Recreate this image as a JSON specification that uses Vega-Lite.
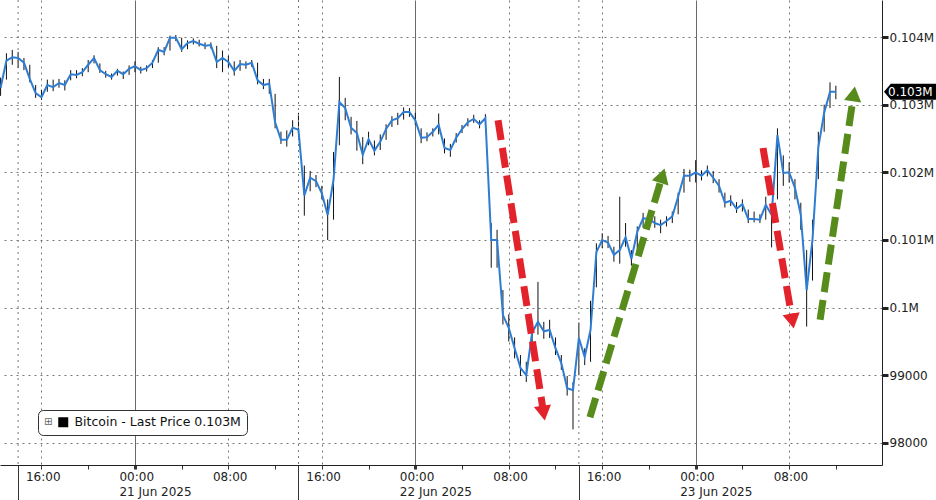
{
  "$schema": "https://vega.github.io/schema/vega-lite/v6.json",
  "width": 882,
  "height": 465,
  "autosize": {"type": "none"},
  "padding": {"left": 0, "top": 0, "right": 54, "bottom": 35},
  "background": "white",
  "config": {"view": {"stroke": null}, "font": "DejaVu Sans"},
  "datasets": {
    "btc": [
      {"t": "2025-06-20T12:30Z", "c": 103250, "lo": 103130, "hi": 103400},
      {"t": "2025-06-20T13:00Z", "c": 103650, "lo": 103370, "hi": 103760},
      {"t": "2025-06-20T13:30Z", "c": 103700, "lo": 103590, "hi": 103810},
      {"t": "2025-06-20T14:00Z", "c": 103690, "lo": 103540, "hi": 103780},
      {"t": "2025-06-20T14:30Z", "c": 103620, "lo": 103510, "hi": 103690},
      {"t": "2025-06-20T15:00Z", "c": 103380, "lo": 103330, "hi": 103590},
      {"t": "2025-06-20T15:30Z", "c": 103170, "lo": 103100, "hi": 103290},
      {"t": "2025-06-20T16:00Z", "c": 103110, "lo": 103070, "hi": 103220},
      {"t": "2025-06-20T16:30Z", "c": 103290, "lo": 103190, "hi": 103370},
      {"t": "2025-06-20T17:00Z", "c": 103260, "lo": 103200, "hi": 103370},
      {"t": "2025-06-20T17:30Z", "c": 103320, "lo": 103250, "hi": 103380},
      {"t": "2025-06-20T18:00Z", "c": 103290, "lo": 103210, "hi": 103360},
      {"t": "2025-06-20T18:30Z", "c": 103450, "lo": 103360, "hi": 103510},
      {"t": "2025-06-20T19:00Z", "c": 103440, "lo": 103390, "hi": 103510},
      {"t": "2025-06-20T19:30Z", "c": 103480, "lo": 103420, "hi": 103540},
      {"t": "2025-06-20T20:00Z", "c": 103590, "lo": 103480, "hi": 103660},
      {"t": "2025-06-20T20:30Z", "c": 103690, "lo": 103610, "hi": 103730},
      {"t": "2025-06-20T21:00Z", "c": 103510, "lo": 103470, "hi": 103610},
      {"t": "2025-06-20T21:30Z", "c": 103450, "lo": 103400, "hi": 103500},
      {"t": "2025-06-20T22:00Z", "c": 103410, "lo": 103370, "hi": 103460},
      {"t": "2025-06-20T22:30Z", "c": 103500, "lo": 103430, "hi": 103530},
      {"t": "2025-06-20T23:00Z", "c": 103450, "lo": 103380, "hi": 103490},
      {"t": "2025-06-20T23:30Z", "c": 103530, "lo": 103440, "hi": 103580},
      {"t": "2025-06-21T00:00Z", "c": 103570, "lo": 103480, "hi": 103640},
      {"t": "2025-06-21T00:30Z", "c": 103510, "lo": 103460, "hi": 103560},
      {"t": "2025-06-21T01:00Z", "c": 103540, "lo": 103490, "hi": 103580},
      {"t": "2025-06-21T01:30Z", "c": 103620, "lo": 103540, "hi": 103660},
      {"t": "2025-06-21T02:00Z", "c": 103810, "lo": 103620, "hi": 103850},
      {"t": "2025-06-21T02:30Z", "c": 103780, "lo": 103730, "hi": 103850},
      {"t": "2025-06-21T03:00Z", "c": 103990, "lo": 103800, "hi": 104020},
      {"t": "2025-06-21T03:30Z", "c": 103990, "lo": 103940, "hi": 104030},
      {"t": "2025-06-21T04:00Z", "c": 103820, "lo": 103780, "hi": 103990},
      {"t": "2025-06-21T04:30Z", "c": 103910, "lo": 103820, "hi": 103950},
      {"t": "2025-06-21T05:00Z", "c": 103940, "lo": 103890, "hi": 103980},
      {"t": "2025-06-21T05:30Z", "c": 103900, "lo": 103860, "hi": 103960},
      {"t": "2025-06-21T06:00Z", "c": 103870, "lo": 103820, "hi": 103920},
      {"t": "2025-06-21T06:30Z", "c": 103880, "lo": 103830, "hi": 103920},
      {"t": "2025-06-21T07:00Z", "c": 103630, "lo": 103540, "hi": 103870},
      {"t": "2025-06-21T07:30Z", "c": 103690, "lo": 103480, "hi": 103800},
      {"t": "2025-06-21T08:00Z", "c": 103630, "lo": 103550, "hi": 103720},
      {"t": "2025-06-21T08:30Z", "c": 103500, "lo": 103430, "hi": 103640},
      {"t": "2025-06-21T09:00Z", "c": 103600, "lo": 103500, "hi": 103660},
      {"t": "2025-06-21T09:30Z", "c": 103590, "lo": 103530, "hi": 103640},
      {"t": "2025-06-21T10:00Z", "c": 103620, "lo": 103560, "hi": 103660},
      {"t": "2025-06-21T10:30Z", "c": 103360, "lo": 103300, "hi": 103620},
      {"t": "2025-06-21T11:00Z", "c": 103290, "lo": 103230, "hi": 103380},
      {"t": "2025-06-21T11:30Z", "c": 103310, "lo": 103160, "hi": 103380},
      {"t": "2025-06-21T12:00Z", "c": 102740, "lo": 102650, "hi": 103160},
      {"t": "2025-06-21T12:30Z", "c": 102480, "lo": 102420, "hi": 102600},
      {"t": "2025-06-21T13:00Z", "c": 102480, "lo": 102380, "hi": 102620},
      {"t": "2025-06-21T13:30Z", "c": 102660, "lo": 102530, "hi": 102770},
      {"t": "2025-06-21T14:00Z", "c": 102630, "lo": 102520, "hi": 102880},
      {"t": "2025-06-21T14:30Z", "c": 101660, "lo": 101360, "hi": 102100},
      {"t": "2025-06-21T15:00Z", "c": 101920, "lo": 101720, "hi": 102020},
      {"t": "2025-06-21T15:30Z", "c": 101870, "lo": 101780, "hi": 101960},
      {"t": "2025-06-21T16:00Z", "c": 101690, "lo": 101600, "hi": 101800},
      {"t": "2025-06-21T16:30Z", "c": 101370, "lo": 101000, "hi": 101600},
      {"t": "2025-06-21T17:00Z", "c": 101890, "lo": 101300, "hi": 102300},
      {"t": "2025-06-21T17:30Z", "c": 103040, "lo": 102400, "hi": 103410},
      {"t": "2025-06-21T18:00Z", "c": 102950, "lo": 102770, "hi": 103100},
      {"t": "2025-06-21T18:30Z", "c": 102660, "lo": 102560, "hi": 102820},
      {"t": "2025-06-21T19:00Z", "c": 102580, "lo": 102320, "hi": 102760},
      {"t": "2025-06-21T19:30Z", "c": 102260, "lo": 102120, "hi": 102520},
      {"t": "2025-06-21T20:00Z", "c": 102490, "lo": 102400, "hi": 102600},
      {"t": "2025-06-21T20:30Z", "c": 102320, "lo": 102250, "hi": 102470},
      {"t": "2025-06-21T21:00Z", "c": 102450, "lo": 102330, "hi": 102560},
      {"t": "2025-06-21T21:30Z", "c": 102640, "lo": 102480, "hi": 102710},
      {"t": "2025-06-21T22:00Z", "c": 102770, "lo": 102670, "hi": 102830},
      {"t": "2025-06-21T22:30Z", "c": 102800, "lo": 102700, "hi": 102880},
      {"t": "2025-06-21T23:00Z", "c": 102890, "lo": 102780, "hi": 102960},
      {"t": "2025-06-21T23:30Z", "c": 102890, "lo": 102820, "hi": 102950},
      {"t": "2025-06-22T00:00Z", "c": 102770, "lo": 102700, "hi": 102880},
      {"t": "2025-06-22T00:30Z", "c": 102510, "lo": 102430, "hi": 102650},
      {"t": "2025-06-22T01:00Z", "c": 102520, "lo": 102460, "hi": 102590},
      {"t": "2025-06-22T01:30Z", "c": 102600, "lo": 102530, "hi": 102650},
      {"t": "2025-06-22T02:00Z", "c": 102700, "lo": 102560, "hi": 102870},
      {"t": "2025-06-22T02:30Z", "c": 102360, "lo": 102280, "hi": 102500},
      {"t": "2025-06-22T03:00Z", "c": 102330, "lo": 102230, "hi": 102420},
      {"t": "2025-06-22T03:30Z", "c": 102510, "lo": 102440, "hi": 102580},
      {"t": "2025-06-22T04:00Z", "c": 102640, "lo": 102580, "hi": 102700},
      {"t": "2025-06-22T04:30Z", "c": 102740, "lo": 102680, "hi": 102800},
      {"t": "2025-06-22T05:00Z", "c": 102790, "lo": 102730, "hi": 102850},
      {"t": "2025-06-22T05:30Z", "c": 102710, "lo": 102650, "hi": 102770},
      {"t": "2025-06-22T06:00Z", "c": 102800, "lo": 102700, "hi": 102860},
      {"t": "2025-06-22T06:30Z", "c": 101000, "lo": 100590, "hi": 101250},
      {"t": "2025-06-22T07:00Z", "c": 101000, "lo": 100590, "hi": 101150},
      {"t": "2025-06-22T07:30Z", "c": 99890, "lo": 99750, "hi": 100260},
      {"t": "2025-06-22T08:00Z", "c": 99700, "lo": 99500, "hi": 99900},
      {"t": "2025-06-22T08:30Z", "c": 99400, "lo": 99250, "hi": 99560},
      {"t": "2025-06-22T09:00Z", "c": 99110, "lo": 98990, "hi": 99300},
      {"t": "2025-06-22T09:30Z", "c": 99000, "lo": 98900, "hi": 99200},
      {"t": "2025-06-22T10:00Z", "c": 99630, "lo": 99300, "hi": 99800},
      {"t": "2025-06-22T10:30Z", "c": 99790, "lo": 99600, "hi": 100380},
      {"t": "2025-06-22T11:00Z", "c": 99650, "lo": 99540, "hi": 99790},
      {"t": "2025-06-22T11:30Z", "c": 99670, "lo": 99550, "hi": 99820},
      {"t": "2025-06-22T12:00Z", "c": 99400, "lo": 99300, "hi": 99560},
      {"t": "2025-06-22T12:30Z", "c": 99180, "lo": 99080, "hi": 99300},
      {"t": "2025-06-22T13:00Z", "c": 98810, "lo": 98700, "hi": 98990},
      {"t": "2025-06-22T13:30Z", "c": 98780, "lo": 98200, "hi": 98900},
      {"t": "2025-06-22T14:00Z", "c": 99550, "lo": 99000, "hi": 99780},
      {"t": "2025-06-22T14:30Z", "c": 99270, "lo": 99150, "hi": 99400},
      {"t": "2025-06-22T15:00Z", "c": 99670, "lo": 99200, "hi": 100100},
      {"t": "2025-06-22T15:30Z", "c": 100820, "lo": 100300, "hi": 100950},
      {"t": "2025-06-22T16:00Z", "c": 101000, "lo": 100880, "hi": 101100},
      {"t": "2025-06-22T16:30Z", "c": 100960, "lo": 100880, "hi": 101060},
      {"t": "2025-06-22T17:00Z", "c": 100780, "lo": 100680, "hi": 100900},
      {"t": "2025-06-22T17:30Z", "c": 100850, "lo": 100650, "hi": 101640},
      {"t": "2025-06-22T18:00Z", "c": 101040, "lo": 100900, "hi": 101250},
      {"t": "2025-06-22T18:30Z", "c": 100720, "lo": 100620, "hi": 100850},
      {"t": "2025-06-22T19:00Z", "c": 101120, "lo": 100800, "hi": 101200},
      {"t": "2025-06-22T19:30Z", "c": 101320, "lo": 101180, "hi": 101400},
      {"t": "2025-06-22T20:00Z", "c": 101310, "lo": 101220, "hi": 101400},
      {"t": "2025-06-22T20:30Z", "c": 101250, "lo": 101180, "hi": 101350},
      {"t": "2025-06-22T21:00Z", "c": 101220, "lo": 101100, "hi": 101300},
      {"t": "2025-06-22T21:30Z", "c": 101280, "lo": 101200, "hi": 101350},
      {"t": "2025-06-22T22:00Z", "c": 101350, "lo": 101250, "hi": 101420},
      {"t": "2025-06-22T22:30Z", "c": 101640, "lo": 101380, "hi": 101700},
      {"t": "2025-06-22T23:00Z", "c": 101950, "lo": 101700, "hi": 102050},
      {"t": "2025-06-22T23:30Z", "c": 101950, "lo": 101860, "hi": 102040},
      {"t": "2025-06-23T00:00Z", "c": 102000, "lo": 101850, "hi": 102180},
      {"t": "2025-06-23T00:30Z", "c": 101950, "lo": 101880, "hi": 102030},
      {"t": "2025-06-23T01:00Z", "c": 102030, "lo": 101940, "hi": 102100},
      {"t": "2025-06-23T01:30Z", "c": 101920, "lo": 101840, "hi": 102020},
      {"t": "2025-06-23T02:00Z", "c": 101800, "lo": 101700, "hi": 101900},
      {"t": "2025-06-23T02:30Z", "c": 101550, "lo": 101480, "hi": 101700},
      {"t": "2025-06-23T03:00Z", "c": 101580, "lo": 101500, "hi": 101660},
      {"t": "2025-06-23T03:30Z", "c": 101460, "lo": 101400, "hi": 101560},
      {"t": "2025-06-23T04:00Z", "c": 101530, "lo": 101420, "hi": 101600},
      {"t": "2025-06-23T04:30Z", "c": 101310, "lo": 101250, "hi": 101450},
      {"t": "2025-06-23T05:00Z", "c": 101310, "lo": 101260, "hi": 101420},
      {"t": "2025-06-23T05:30Z", "c": 101300, "lo": 101250, "hi": 101380},
      {"t": "2025-06-23T06:00Z", "c": 101520, "lo": 101300, "hi": 101640},
      {"t": "2025-06-23T06:30Z", "c": 101370, "lo": 100890, "hi": 101500},
      {"t": "2025-06-23T07:00Z", "c": 102550, "lo": 101600, "hi": 102650},
      {"t": "2025-06-23T07:30Z", "c": 101990, "lo": 101800, "hi": 102250},
      {"t": "2025-06-23T08:00Z", "c": 102000, "lo": 101850, "hi": 102150},
      {"t": "2025-06-23T08:30Z", "c": 101770, "lo": 101600, "hi": 101900},
      {"t": "2025-06-23T09:00Z", "c": 101370, "lo": 101150, "hi": 101550},
      {"t": "2025-06-23T09:30Z", "c": 100260, "lo": 99720, "hi": 100850},
      {"t": "2025-06-23T10:00Z", "c": 101000, "lo": 100400, "hi": 101300},
      {"t": "2025-06-23T10:30Z", "c": 102370, "lo": 101900, "hi": 102600},
      {"t": "2025-06-23T11:00Z", "c": 102880, "lo": 102600, "hi": 103000},
      {"t": "2025-06-23T11:30Z", "c": 103190, "lo": 102950, "hi": 103330},
      {"t": "2025-06-23T12:00Z", "c": 103190, "lo": 103080, "hi": 103280}
    ],
    "sessions": [
      {"t": "2025-06-20T14:00Z"},
      {"t": "2025-06-21T14:00Z"},
      {"t": "2025-06-22T14:00Z"}
    ],
    "arrows": [
      {"id": "r1", "dir": "down", "t1": "2025-06-22T07:05Z", "p1": 102770, "t2": "2025-06-22T10:59Z", "p2": 98440},
      {"id": "r2", "dir": "down", "t1": "2025-06-23T05:46Z", "p1": 102360, "t2": "2025-06-23T08:17Z", "p2": 99800},
      {"id": "g1", "dir": "up", "t1": "2025-06-22T14:57Z", "p1": 98380, "t2": "2025-06-22T21:09Z", "p2": 101950},
      {"id": "g2", "dir": "up", "t1": "2025-06-23T10:39Z", "p1": 99820, "t2": "2025-06-23T13:32Z", "p2": 103160}
    ],
    "last": [{"p": 103190, "label": "0.103M"}]
  },
  "layer": [
    {
      "data": {"name": "btc"},
      "mark": {"type": "rule", "strokeWidth": 1, "color": "#111111"},
      "encoding": {
        "x": {
          "field": "t", "type": "temporal", "title": null,
          "scale": {"type": "utc", "domain": [1750422420000, 1750694220000]},
          "axis": {
            "orient": "bottom",
            "values": [1750428000000, 1750435200000, 1750449600000, 1750464000000, 1750478400000, 1750492800000, 1750507200000, 1750514400000, 1750521600000, 1750536000000, 1750550400000, 1750564800000, 1750579200000, 1750593600000, 1750600800000, 1750608000000, 1750622400000, 1750636800000, 1750651200000, 1750665600000, 1750680000000],
            "labelExpr": "utchours(datum.value) % 8 == 0 ? (utchours(datum.value) == 0 ? [utcFormat(datum.value, '%H:%M'), utcFormat(datum.value, '%d %b %Y')] : utcFormat(datum.value, '%H:%M')) : ''",
            "labelAlign": "left", "labelOffset": -16, "labelBaseline": "top", "labelPadding": -30, "labelLineHeight": 15,
            "labelFont": "DejaVu Sans", "labelFontSize": 12, "labelColor": "#222222",
            "labelOverlap": false, "labelFlush": false, "labelBound": false,
            "domainColor": "#222222", "domainWidth": 1,
            "tickColor": "#333333",
            "tickSize": 36,
            "tickDash": {"condition": {"test": "utchours(datum.value) == 14", "value": []}, "value": [4, 100]},
            "tickWidth": {"condition": {"test": "utchours(datum.value) == 0", "value": 3}, "value": 1},
            "grid": true,
            "gridColor": {"condition": {"test": "utchours(datum.value) == 0", "value": "#6a6a6a"}, "value": "#777777"},
            "gridDash": {"condition": {"test": "utchours(datum.value) == 0", "value": []}, "value": [2, 4]},
            "gridOpacity": {"condition": {"test": "utchours(datum.value) % 8 == 0", "value": 1}, "value": 0}
          }
        },
        "y": {
          "field": "lo", "type": "quantitative", "title": null,
          "scale": {"domain": [97674, 104547], "nice": false, "zero": false},
          "axis": {
            "orient": "right",
            "values": [98000, 98500, 99000, 99500, 100000, 100500, 101000, 101500, 102000, 102500, 103000, 103500, 104000, 104500],
            "labelExpr": "datum.value % 1000 != 0 ? '' : (datum.value >= 100000 ? format(datum.value / 1000000, '.3~f') + 'M' : format(datum.value, 'd'))",
            "labelFont": "DejaVu Sans", "labelFontSize": 12, "labelColor": "#222222", "labelPadding": 1,
            "labelOverlap": false, "labelFlush": false, "labelBound": false,
            "domainColor": "#222222", "tickColor": "#222222",
            "tickSize": 6,
            "tickDash": {"condition": {"test": "datum.value % 1000 == 0", "value": []}, "value": [4, 50]},
            "tickWidth": {"condition": {"test": "datum.value % 1000 == 0", "value": 3}, "value": 1},
            "grid": true, "gridDash": [2, 4], "gridColor": "#777777",
            "gridOpacity": {"condition": {"test": "datum.value % 1000 == 0", "value": 1}, "value": 0}
          }
        },
        "y2": {"field": "hi"}
      }
    },
    {
      "data": {"name": "sessions"},
      "mark": {"type": "rule", "strokeWidth": 1, "strokeDash": [2, 4], "color": "#777777"},
      "encoding": {
        "x": {"field": "t", "type": "temporal", "title": null, "scale": {"type": "utc"}}
      }
    },
    {
      "data": {"name": "btc"},
      "mark": {"type": "line", "strokeWidth": 2, "color": "#2e7dd3"},
      "encoding": {
        "x": {"field": "t", "type": "temporal", "title": null, "scale": {"type": "utc"}},
        "y": {"field": "c", "type": "quantitative", "title": null}
      }
    },
    {
      "data": {"name": "arrows"},
      "mark": {"type": "rule", "strokeWidth": 7, "strokeDash": [20, 8], "strokeCap": "butt"},
      "encoding": {
        "x": {"field": "t1", "type": "temporal", "title": null, "scale": {"type": "utc"}},
        "y": {"field": "p1", "type": "quantitative", "title": null},
        "x2": {"field": "t2"},
        "y2": {"field": "p2"},
        "stroke": {"condition": {"test": "datum.dir == 'down'", "value": "#e3232c"}, "value": "#578b1c"}
      }
    },
    {
      "data": {"name": "arrows"},
      "transform": [{"filter": "datum.id == 'r1'"}],
      "mark": {"type": "point", "shape": "triangle-up", "filled": true, "size": 300, "angle": 171, "color": "#e3232c", "opacity": 1},
      "encoding": {
        "x": {"field": "t2", "type": "temporal", "title": null, "scale": {"type": "utc"}},
        "y": {"field": "p2", "type": "quantitative", "title": null}
      }
    },
    {
      "data": {"name": "arrows"},
      "transform": [{"filter": "datum.id == 'r2'"}],
      "mark": {"type": "point", "shape": "triangle-up", "filled": true, "size": 300, "angle": 170, "color": "#e3232c", "opacity": 1},
      "encoding": {
        "x": {"field": "t2", "type": "temporal", "title": null, "scale": {"type": "utc"}},
        "y": {"field": "p2", "type": "quantitative", "title": null}
      }
    },
    {
      "data": {"name": "arrows"},
      "transform": [{"filter": "datum.id == 'g1'"}],
      "mark": {"type": "point", "shape": "triangle-up", "filled": true, "size": 300, "angle": 17, "color": "#578b1c", "opacity": 1},
      "encoding": {
        "x": {"field": "t2", "type": "temporal", "title": null, "scale": {"type": "utc"}},
        "y": {"field": "p2", "type": "quantitative", "title": null}
      }
    },
    {
      "data": {"name": "arrows"},
      "transform": [{"filter": "datum.id == 'g2'"}],
      "mark": {"type": "point", "shape": "triangle-up", "filled": true, "size": 300, "angle": 8.5, "color": "#578b1c", "opacity": 1},
      "encoding": {
        "x": {"field": "t2", "type": "temporal", "title": null, "scale": {"type": "utc"}},
        "y": {"field": "p2", "type": "quantitative", "title": null}
      }
    },
    {
      "data": {"name": "last"},
      "mark": {"type": "point", "shape": "M0.25,0L1.1,-1L6.8,-1L6.8,1L1.1,1Z", "size": 256, "filled": true, "opacity": 1, "strokeWidth": 0},
      "encoding": {
        "x": {"datum": {"year": 2025, "month": 6, "date": 23, "hours": 15, "minutes": 57, "utc": true}, "type": "temporal", "scale": {"type": "utc"}},
        "y": {"field": "p", "type": "quantitative", "title": null},
        "color": {
          "datum": "Bitcoin - Last Price 0.103M",
          "scale": {"range": ["#000000"]},
          "legend": {
            "orient": "none", "legendX": 38, "legendY": 410,
            "title": "⊞", "titleOrient": "left", "titleFontSize": 10, "titleColor": "#666666", "titleFontWeight": "normal", "titlePadding": 4, "titleBaseline": "middle",
            "fillColor": "white", "strokeColor": "#333333", "cornerRadius": 5, "padding": 6,
            "symbolType": "square", "symbolSize": 100, "symbolStrokeWidth": 0,
            "labelFont": "DejaVu Sans", "labelFontSize": 12.5, "labelColor": "#111111", "labelLimit": 400, "labelOffset": 5
          }
        }
      }
    },
    {
      "data": {"name": "last"},
      "mark": {"type": "text", "align": "left", "baseline": "middle", "dx": 6, "color": "white", "fontSize": 12, "font": "DejaVu Sans"},
      "encoding": {
        "x": {"datum": {"year": 2025, "month": 6, "date": 23, "hours": 15, "minutes": 57, "utc": true}, "type": "temporal", "scale": {"type": "utc"}},
        "y": {"field": "p", "type": "quantitative", "title": null},
        "text": {"field": "label"}
      }
    }
  ]
}
